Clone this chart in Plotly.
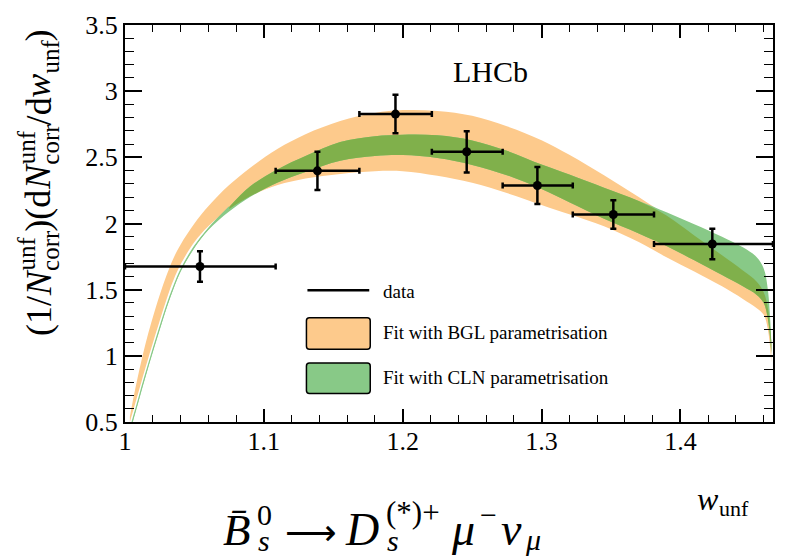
import numpy as np
import plotly.graph_objects as go

# ---- measured spectrum (unfolded, normalised) ----
w_center = [1.054, 1.1386, 1.1948, 1.2461, 1.297, 1.3517, 1.423]
bin_lo = [1.0, 1.1085, 1.1688, 1.2210, 1.2720, 1.3225, 1.3810]
bin_hi = [1.1085, 1.1688, 1.2210, 1.2720, 1.3225, 1.3810, 1.4667]
rate = [1.675, 2.398, 2.827, 2.542, 2.287, 2.068, 1.845]
rate_err = [0.115, 0.145, 0.145, 0.156, 0.14, 0.108, 0.115]

# ---- fit bands on a common w grid ----
w_grid = [1.0035, 1.006, 1.009, 1.012, 1.016, 1.02, 1.025, 1.03, 1.035, 1.04,
          1.05, 1.06, 1.075, 1.09, 1.11, 1.13, 1.155, 1.18, 1.20, 1.225,
          1.25, 1.275, 1.30, 1.32, 1.345, 1.37, 1.39, 1.41, 1.43, 1.445,
          1.455, 1.46, 1.463, 1.4655]
bgl_lo = [0.50, 0.59, 0.70, 0.81, 0.955, 1.095, 1.265, 1.43, 1.575, 1.69,
          1.86, 1.98, 2.11, 2.205, 2.29, 2.34, 2.375, 2.395, 2.395, 2.36,
          2.307, 2.23, 2.14, 2.07, 1.98, 1.86, 1.745, 1.637, 1.525, 1.43,
          1.36, 1.31, 1.20, 0.95]
bgl_hi = [0.54, 0.68, 0.83, 0.97, 1.14, 1.29, 1.46, 1.61, 1.74, 1.84,
          2.00, 2.13, 2.29, 2.42, 2.565, 2.675, 2.775, 2.835, 2.857, 2.851,
          2.814, 2.735, 2.63, 2.52, 2.365, 2.20, 2.06, 1.91, 1.76, 1.645,
          1.56, 1.48, 1.36, 1.10]
cln_lo = [0.42, 0.52, 0.63, 0.745, 0.89, 1.03, 1.20, 1.365, 1.51, 1.635,
          1.815, 1.95, 2.09, 2.20, 2.31, 2.39, 2.475, 2.51, 2.517, 2.495,
          2.443, 2.365, 2.26, 2.16, 2.035, 1.925, 1.83, 1.722, 1.61, 1.525,
          1.46, 1.40, 1.28, 1.02]
cln_hi = [0.432, 0.532, 0.642, 0.757, 0.902, 1.042, 1.212, 1.377, 1.522, 1.647,
          1.827, 1.962, 2.125, 2.28, 2.41, 2.51, 2.615, 2.66, 2.671, 2.666,
          2.628, 2.55, 2.445, 2.37, 2.27, 2.17, 2.085, 1.995, 1.90, 1.82,
          1.745, 1.66, 1.50, 1.10]

x_ticks = [1.0, 1.1, 1.2, 1.3, 1.4]
y_ticks = [0.5, 1.0, 1.5, 2.0, 2.5, 3.0, 3.5]

ORANGE = "#FDCA8C"
GREEN = "#88C987"
OLIVE = "#80B04B"
SERIF = "Liberation Serif"

# figure geometry (pixels)
W, H = 786, 559
L, R, T, B = 125, 11, 18, 137
PW, PH = W - L - R, H - T - B


def px_x(px):
    return (px - L) / PW


def px_y(py):
    return (T + PH - py) / PH


fig = go.Figure()


def band(x, lo, hi, color):
    fig.add_trace(go.Scatter(x=x, y=lo, mode="lines", hoverinfo="skip",
                             line=dict(width=0, shape="spline", smoothing=1.0),
                             showlegend=False))
    fig.add_trace(go.Scatter(x=x, y=hi, mode="lines", hoverinfo="skip",
                             fill="tonexty", fillcolor=color,
                             line=dict(width=0, shape="spline", smoothing=1.0),
                             showlegend=False))


wg = np.array(w_grid)
bl, bh = np.array(bgl_lo), np.array(bgl_hi)
cl, ch = np.array(cln_lo), np.array(cln_hi)

# BGL band, then CLN band, then the region where both fits agree
band(wg, bl, bh, ORANGE)
band(wg, cl, ch, GREEN)
ov_lo = np.maximum(bl, cl)
ov_hi = np.minimum(bh, ch)
keep = ov_hi > ov_lo
first = int(np.argmax(keep))
band(wg[first:], ov_lo[first:], np.maximum(ov_hi[first:], ov_lo[first:]), OLIVE)

# narrow CLN band near zero recoil drawn as a thin line
thin = wg <= 1.075
fig.add_trace(go.Scatter(x=wg[thin], y=ch[thin], mode="lines", hoverinfo="skip",
                         line=dict(width=1.2, color=GREEN, shape="spline"),
                         showlegend=False))

# data points with bin widths
wc = np.array(w_center)
fig.add_trace(go.Scatter(
    x=wc, y=rate, mode="markers",
    marker=dict(color="black", size=9),
    error_x=dict(type="data", symmetric=False,
                 array=np.array(bin_hi) - wc, arrayminus=wc - np.array(bin_lo),
                 color="black", thickness=2.5, width=3),
    error_y=dict(type="data", array=rate_err, color="black", thickness=2.5, width=3),
    showlegend=False, cliponaxis=False))

axis_common = dict(showline=True, linecolor="black", linewidth=2, mirror="allticks",
                   ticks="inside", tickcolor="black", tickwidth=1.6,
                   showgrid=False, zeroline=False,
                   tickfont=dict(family=SERIF, size=26, color="black"))
fig.update_xaxes(range=[1.0, 1.4667], tickvals=x_ticks,
                 ticktext=["1", "1.1", "1.2", "1.3", "1.4"], ticklen=13,
                 ticklabelstandoff=-5,
                 minor=dict(ticks="inside", dtick=0.02, tick0=1.0, ticklen=7,
                            tickwidth=1.4, tickcolor="black", showgrid=False),
                 **axis_common)
fig.update_yaxes(range=[0.5, 3.5], tickvals=y_ticks,
                 ticktext=["0.5", "1", "1.5", "2", "2.5", "3", "3.5"], ticklen=17,
                 minor=dict(ticks="inside", dtick=0.1, tick0=0.5, ticklen=9,
                            tickwidth=1.4, tickcolor="black", showgrid=False),
                 **axis_common)

annotations = []
shapes = []


def txt(text, px, py, size, xanchor="left", yanchor="middle", angle=0, family=SERIF):
    annotations.append(dict(text=text, x=px_x(px), y=px_y(py), xref="paper", yref="paper",
                            xanchor=xanchor, yanchor=yanchor, showarrow=False,
                            textangle=angle, borderpad=0,
                            font=dict(family=family, size=size, color="black")))


def run(groups, start, base, vertical=False):
    """Lay out a formula built from pieces; each group shares one start position."""
    pos = start
    for group in groups:
        adv = 0
        for text, size, rise, em in group:
            centre = base - rise - 0.3 * size
            if vertical:
                txt(text, centre, pos, size, xanchor="center", yanchor="bottom", angle=-90)
            else:
                txt(text, pos, centre, size)
            adv = max(adv, em * size)
        pos = pos - adv if vertical else pos + adv


# y-axis title
S, s = 36, 25
sup, sub = 0.42 * S, -0.25 * S
ytitle = [
    [("(1/", S, 0, 1.111)],
    [("<i>N</i>", S, 0, 0.72)],
    [("unf", s, sup, 1.333), ("corr", s, sub, 1.61)],
    [(")(d", S, 0, 1.166)],
    [("<i>N</i>", S, 0, 0.72)],
    [("unf", s, sup, 1.333), ("corr", s, sub, 1.61)],
    [("/d", S, 0, 0.778)],
    [("<i>w</i>", S, 0, 0.667)],
    [("unf", s, sub, 1.333)],
    [(")", S, 0, 0.333)],
]
run(ytitle, 335, 49, vertical=True)

# x-axis title
run([[("<i>w</i>", 32, 0, 0.68)], [("unf", 22, -7, 1.333)]], 698, 510)

# experiment label
txt("LHCb", 492, 65, 30, xanchor="center")

# decay written under the axis
BASE = 545
txt("<i>B\u0304</i>", 222, BASE - 0.3 * 45, 45)
txt("0", 256, BASE - 20 - 0.3 * 30, 30)
txt("<i>s</i>", 257, BASE + 7 - 0.3 * 30, 30)
txt("\u27f6", 284, BASE - 0.3 * 36, 36, family="DejaVu Sans")
txt("<i>D</i>", 345, BASE - 0.3 * 46, 46)
txt("(*)+", 386, BASE - 22 - 0.3 * 31, 31)
txt("<i>s</i>", 387, BASE + 7 - 0.3 * 30, 30)
txt("<i>\u03bc</i>", 451, BASE - 0.3 * 46, 46)
txt("\u2212", 480, BASE - 20 - 0.3 * 30, 30)
txt("<i>\u03bd</i>", 501, BASE - 0.3 * 46, 46)
txt("<i>\u03bc</i>", 525, BASE + 6 - 0.3 * 30, 30)


def rounded_box(x0, y0, x1, y1, r=3):
    """Rounded rectangle path in paper units from pixel corners."""
    pts = [
        f"M {px_x(x0 + r)} {px_y(y0)}", f"L {px_x(x1 - r)} {px_y(y0)}",
        f"Q {px_x(x1)} {px_y(y0)} {px_x(x1)} {px_y(y0 + r)}",
        f"L {px_x(x1)} {px_y(y1 - r)}",
        f"Q {px_x(x1)} {px_y(y1)} {px_x(x1 - r)} {px_y(y1)}",
        f"L {px_x(x0 + r)} {px_y(y1)}",
        f"Q {px_x(x0)} {px_y(y1)} {px_x(x0)} {px_y(y1 - r)}",
        f"L {px_x(x0)} {px_y(y0 + r)}",
        f"Q {px_x(x0)} {px_y(y0)} {px_x(x0 + r)} {px_y(y0)} Z",
    ]
    return " ".join(pts)


# legend
shapes.append(dict(type="line", xref="paper", yref="paper",
                   x0=px_x(308), x1=px_x(370), y0=px_y(288), y1=px_y(288),
                   line=dict(color="black", width=2.5)))
for (y0, y1, col) in [(316, 348, ORANGE), (362, 393, GREEN)]:
    shapes.append(dict(type="path", xref="paper", yref="paper",
                       path=rounded_box(307, y0, 371, y1),
                       fillcolor=col, line=dict(color="black", width=1.5)))
txt("data", 383, 289, 19)
txt("Fit with BGL parametrisation", 383, 331, 19)
txt("Fit with CLN parametrisation", 383, 377, 19)

fig.update_layout(width=W, height=H, margin=dict(l=L, r=R, t=T, b=B),
                  plot_bgcolor="white", paper_bgcolor="white",
                  annotations=annotations, shapes=shapes, showlegend=False)

fig.write_html("out.html")
